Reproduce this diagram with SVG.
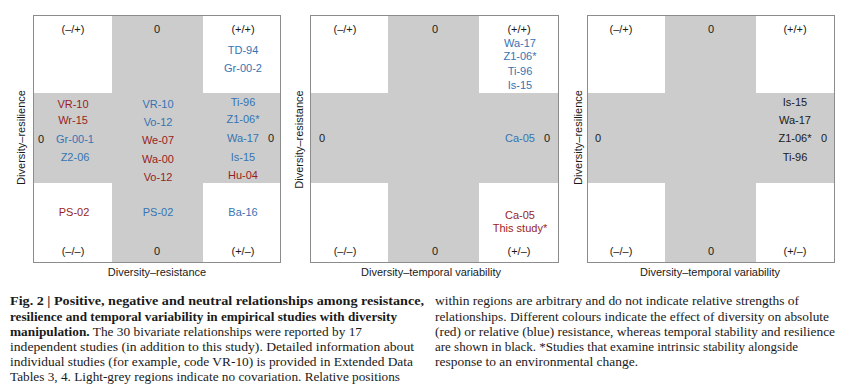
<svg xmlns="http://www.w3.org/2000/svg" width="849" height="389" viewBox="0 0 849 389">
<style>
.bg{fill:#ffffff}
.gr{fill:#cccccc}
.fr{fill:none;stroke:#8c8c8c;stroke-width:1}
.t{font-family:"Liberation Sans",Arial,sans-serif;font-size:11px;text-anchor:middle;fill:#1a1a1a}
.r{fill:#981e1e}
.b{fill:#3574b4}
.ax{font-family:"Liberation Sans",Arial,sans-serif;font-size:11px;text-anchor:middle;fill:#1a1a1a}
.cap{font-family:"Liberation Serif","Times New Roman",serif;font-size:13.5px;fill:#1a1a1a}
.bd{font-weight:bold}
</style>
<rect class="bg" x="0" y="0" width="849" height="389"/>

<g id="panel1">
  <rect class="gr" x="112" y="15" width="91" height="247"/>
  <rect class="gr" x="33" y="93" width="247" height="90"/>
  <rect class="fr" x="33.5" y="15.5" width="247" height="247"/>
  <text class="t" x="73" y="33">(–/+)</text>
  <text class="t" x="157" y="33">0</text>
  <text class="t" x="243" y="33">(+/+)</text>
  <text class="t b" x="243" y="54">TD-94</text>
  <text class="t b" x="243" y="72">Gr-00-2</text>
  <text class="t r" x="73" y="108">VR-10</text>
  <text class="t r" x="73" y="124">Wr-15</text>
  <text class="t" x="41" y="143">0</text>
  <text class="t b" x="75" y="143">Gr-00-1</text>
  <text class="t b" x="75" y="161">Z2-06</text>
  <text class="t b" x="158" y="108">VR-10</text>
  <text class="t b" x="158" y="126">Vo-12</text>
  <text class="t r" x="158" y="144">We-07</text>
  <text class="t r" x="158" y="163">Wa-00</text>
  <text class="t r" x="158" y="181">Vo-12</text>
  <text class="t b" x="243" y="106">Ti-96</text>
  <text class="t b" x="243" y="123">Z1-06*</text>
  <text class="t b" x="243" y="142">Wa-17</text>
  <text class="t" x="271" y="142">0</text>
  <text class="t b" x="243" y="161">Is-15</text>
  <text class="t r" x="243" y="179">Hu-04</text>
  <text class="t r" x="74" y="216">PS-02</text>
  <text class="t b" x="158" y="216">PS-02</text>
  <text class="t b" x="243" y="216">Ba-16</text>
  <text class="t" x="73" y="255">(–/–)</text>
  <text class="t" x="157" y="255">0</text>
  <text class="t" x="243" y="255">(+/–)</text>
  <text class="ax" x="157" y="276">Diversity–resistance</text>
  <text class="ax" transform="translate(25,137.5) rotate(-90)">Diversity–resilience</text>
</g>

<g id="panel2">
  <rect class="gr" x="388" y="15" width="91" height="247"/>
  <rect class="gr" x="310" y="93" width="248" height="90"/>
  <rect class="fr" x="310.5" y="15.5" width="248" height="247"/>
  <text class="t" x="345" y="33">(–/+)</text>
  <text class="t" x="435" y="33">0</text>
  <text class="t" x="519" y="33">(+/+)</text>
  <text class="t b" x="520" y="47">Wa-17</text>
  <text class="t b" x="520" y="60">Z1-06*</text>
  <text class="t b" x="520" y="75">Ti-96</text>
  <text class="t b" x="520" y="89">Is-15</text>
  <text class="t" x="322" y="142">0</text>
  <text class="t b" x="520" y="142">Ca-05</text>
  <text class="t" x="547" y="142">0</text>
  <text class="t r" x="520" y="219">Ca-05</text>
  <text class="t r" x="520" y="232">This study*</text>
  <text class="t" x="345" y="255">(–/–)</text>
  <text class="t" x="435" y="255">0</text>
  <text class="t" x="519" y="255">(+/–)</text>
  <text class="ax" x="431" y="276">Diversity–temporal variability</text>
  <text class="ax" transform="translate(303,139.5) rotate(-90)">Diversity–resistance</text>
</g>

<g id="panel3">
  <rect class="gr" x="665" y="15" width="91" height="247"/>
  <rect class="gr" x="587" y="93" width="247" height="90"/>
  <rect class="fr" x="587.5" y="15.5" width="247" height="247"/>
  <text class="t" x="621" y="33">(–/+)</text>
  <text class="t" x="711" y="33">0</text>
  <text class="t" x="795" y="33">(+/+)</text>
  <text class="t" x="795" y="106">Is-15</text>
  <text class="t" x="795" y="124">Wa-17</text>
  <text class="t" x="598" y="142">0</text>
  <text class="t" x="795" y="142">Z1-06*</text>
  <text class="t" x="824" y="142">0</text>
  <text class="t" x="795" y="161">Ti-96</text>
  <text class="t" x="621" y="255">(–/–)</text>
  <text class="t" x="711" y="255">0</text>
  <text class="t" x="795" y="255">(+/–)</text>
  <text class="ax" x="710" y="276">Diversity–temporal variability</text>
  <text class="ax" transform="translate(582,137.5) rotate(-90)">Diversity–resilience</text>
</g>

<g id="caption">
  <text class="cap bd" x="10" y="305" textLength="414" lengthAdjust="spacingAndGlyphs">Fig. 2 | Positive, negative and neutral relationships among resistance,</text>
  <text class="cap bd" x="10" y="321" textLength="387" lengthAdjust="spacingAndGlyphs">resilience and temporal variability in empirical studies with diversity</text>
  <text class="cap" x="10" y="336" textLength="352" lengthAdjust="spacingAndGlyphs"><tspan class="bd">manipulation.</tspan> The 30 bivariate relationships were reported by 17</text>
  <text class="cap" x="10" y="351" textLength="404" lengthAdjust="spacingAndGlyphs">independent studies (in addition to this study). Detailed information about</text>
  <text class="cap" x="10" y="366" textLength="403" lengthAdjust="spacingAndGlyphs">individual studies (for example, code VR-10) is provided in Extended Data</text>
  <text class="cap" x="10" y="381" textLength="390" lengthAdjust="spacingAndGlyphs">Tables 3, 4. Light-grey regions indicate no covariation. Relative positions</text>
  <text class="cap" x="435" y="305" textLength="364" lengthAdjust="spacingAndGlyphs">within regions are arbitrary and do not indicate relative strengths of</text>
  <text class="cap" x="435" y="321" textLength="394" lengthAdjust="spacingAndGlyphs">relationships. Different colours indicate the effect of diversity on absolute</text>
  <text class="cap" x="435" y="336" textLength="400" lengthAdjust="spacingAndGlyphs">(red) or relative (blue) resistance, whereas temporal stability and resilience</text>
  <text class="cap" x="435" y="351" textLength="363" lengthAdjust="spacingAndGlyphs">are shown in black. *Studies that examine intrinsic stability alongside</text>
  <text class="cap" x="435" y="366" textLength="203" lengthAdjust="spacingAndGlyphs">response to an environmental change.</text>
</g>
</svg>
